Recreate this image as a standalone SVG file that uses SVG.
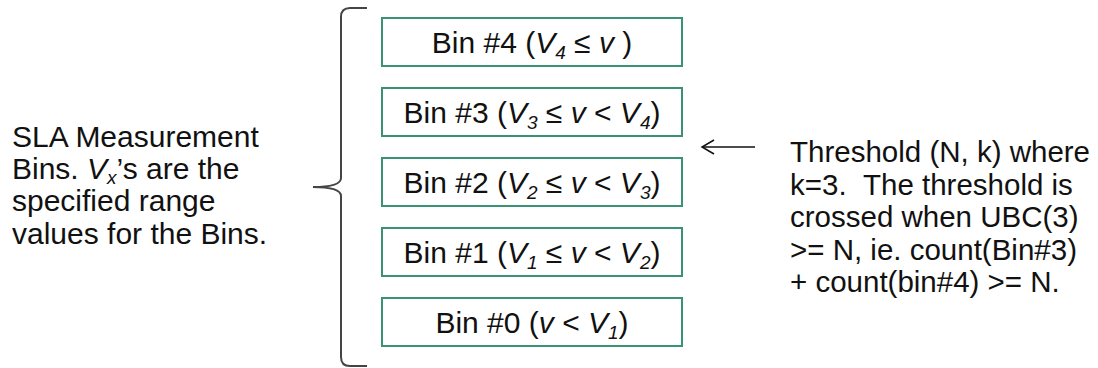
<svg xmlns="http://www.w3.org/2000/svg" width="1098" height="368" viewBox="0 0 1098 368">
<style>
text{font-family:"Liberation Sans",Arial,sans-serif;font-size:30px;fill:#111}
.box{fill:#fff;stroke:#3a9276;stroke-width:2}
.bt{text-anchor:middle}
.i{font-style:italic}
.s{font-style:italic;font-size:19px}
.r{font-size:29.5px}
.brace{fill:none;stroke:#444;stroke-width:2}
.arr{fill:none;stroke:#111;stroke-width:1.5}
</style>
<rect width="1098" height="368" fill="#fff"/>
<g id="label-left">
<text x="12" y="147">SLA Measurement</text>
<text x="12" y="179">Bins. <tspan class="i">V</tspan><tspan class="s" dy="5">x</tspan><tspan dy="-5">’s are the</tspan></text>
<text x="12" y="211">specified range</text>
<text x="12" y="244">values for the Bins.</text>
</g>
<g id="brace"><path class="brace" d="M367 8 L350 8 Q341 8 341 17 L341 178 Q341 187 313 187 Q341 187 341 196 L341 357 Q341 366 350 366 L367 366"/></g>
<g id="bin4"><rect class="box" x="382" y="18" width="300" height="48"/>
<text class="bt" x="532" y="52.5">Bin #4 (<tspan class="i">V</tspan><tspan class="s" dy="6">4</tspan><tspan dy="-6"> ≤ </tspan><tspan class="i">v</tspan> )</text></g>
<g id="bin3"><rect class="box" x="382" y="88" width="300" height="48"/>
<text class="bt" x="532" y="122.5">Bin #3 (<tspan class="i">V</tspan><tspan class="s" dy="6">3</tspan><tspan dy="-6"> ≤ </tspan><tspan class="i">v</tspan> &lt; <tspan class="i">V</tspan><tspan class="s" dy="6">4</tspan><tspan dy="-6">)</tspan></text></g>
<g id="bin2"><rect class="box" x="382" y="158" width="300" height="48"/>
<text class="bt" x="532" y="192.5">Bin #2 (<tspan class="i">V</tspan><tspan class="s" dy="6">2</tspan><tspan dy="-6"> ≤ </tspan><tspan class="i">v</tspan> &lt; <tspan class="i">V</tspan><tspan class="s" dy="6">3</tspan><tspan dy="-6">)</tspan></text></g>
<g id="bin1"><rect class="box" x="382" y="228" width="300" height="48"/>
<text class="bt" x="532" y="262.5">Bin #1 (<tspan class="i">V</tspan><tspan class="s" dy="6">1</tspan><tspan dy="-6"> ≤ </tspan><tspan class="i">v</tspan> &lt; <tspan class="i">V</tspan><tspan class="s" dy="6">2</tspan><tspan dy="-6">)</tspan></text></g>
<g id="bin0"><rect class="box" x="382" y="298" width="300" height="48"/>
<text class="bt" x="532" y="332.5">Bin #0 (<tspan class="i">v</tspan> &lt; <tspan class="i">V</tspan><tspan class="s" dy="6">1</tspan><tspan dy="-6">)</tspan></text></g>
<g id="connectors">
<line class="arr" x1="755" y1="147" x2="702" y2="147"/>
<polyline class="arr" points="714,140 702,147 714,154"/>
</g>
<g id="label-right">
<text class="r" x="790" y="162">Threshold (N, k) where</text>
<text class="r" x="790" y="194.5">k=3. &#160;The threshold is</text>
<text class="r" x="790" y="227">crossed when UBC(3)</text>
<text class="r" x="790" y="259.5">&gt;= N, ie. count(Bin#3)</text>
<text class="r" x="790" y="292">+ count(bin#4) &gt;= N.</text>
</g>
</svg>
